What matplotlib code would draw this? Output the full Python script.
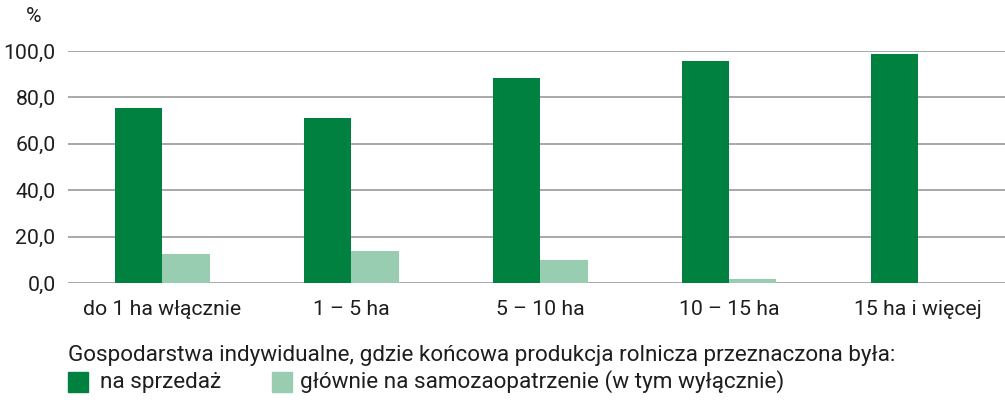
import matplotlib
matplotlib.use("Agg")
import matplotlib.pyplot as plt
from matplotlib.patches import Rectangle

categories = ["do 1 ha włącznie", "1 – 5 ha", "5 – 10 ha", "10 – 15 ha", "15 ha i więcej"]
sprzedaz = [75.4, 71.1, 88.4, 95.8, 98.7]
samozaop = [12.7, 14.0, 9.8, 1.6, 0.0]
yticks = [0, 20, 40, 60, 80, 100]
ytick_labels = ["0,0", "20,0", "40,0", "60,0", "80,0", "100,0"]
legend_title = "Gospodarstwa indywidualne, gdzie końcowa produkcja rolnicza przeznaczona była:"
series_names = ["na sprzedaż", "głównie na samozaopatrzenie (w tym wyłącznie)"]

dark = "#00813F"
light = "#99CDB1"
plt.rcParams['font.family'] = ['Roboto', 'DejaVu Sans']
tc = "#1e1e1e"
fs = 15.3
lfs = 16.2

W, H = 1005, 411
fig = plt.figure(figsize=(W/100, H/100), dpi=100)
ax = fig.add_axes([68/W, 1-283/H, (W-68)/W, (283-51)/H])

x = list(range(len(categories)))
bw = 0.25
ax.bar([i - bw/2 for i in x], sprzedaz, width=bw, color=dark, zorder=3)
ax.bar([i + bw/2 for i in x], samozaop, width=bw, color=light, zorder=3)

ax.set_ylim(0, 100)
ax.set_xlim(-0.5, 4.46)
ax.set_yticks(yticks)
ax.set_yticklabels(ytick_labels, fontsize=fs, color=tc)
ax.set_xticks(x)
ax.set_xticklabels(categories, fontsize=fs, color=tc)
ax.tick_params(axis='both', length=0)
ax.tick_params(axis='y', pad=9)
ax.tick_params(axis='x', pad=12)
ax.yaxis.grid(True, color="#9a9a9a", linewidth=1.2, zorder=0)
ax.set_axisbelow(True)
for s in ax.spines.values():
    s.set_visible(False)

fig.text(34/W, 1-17/H, "%", fontsize=fs, ha="center", va="center", color=tc)
fig.text(68/W, 1-355/H, legend_title, fontsize=lfs, ha="left", va="center", color=tc)
fig.patches.append(Rectangle((68/W, 1-392/H), 20/W, 20/H, transform=fig.transFigure, color=dark, figure=fig))
fig.text(100/W, 1-382/H, series_names[0], fontsize=lfs, ha="left", va="center", color=tc)
fig.patches.append(Rectangle((272/W, 1-392/H), 20/W, 20/H, transform=fig.transFigure, color=light, figure=fig))
fig.text(300/W, 1-382/H, series_names[1], fontsize=lfs, ha="left", va="center", color=tc)

fig.savefig("out.png", dpi=100)
